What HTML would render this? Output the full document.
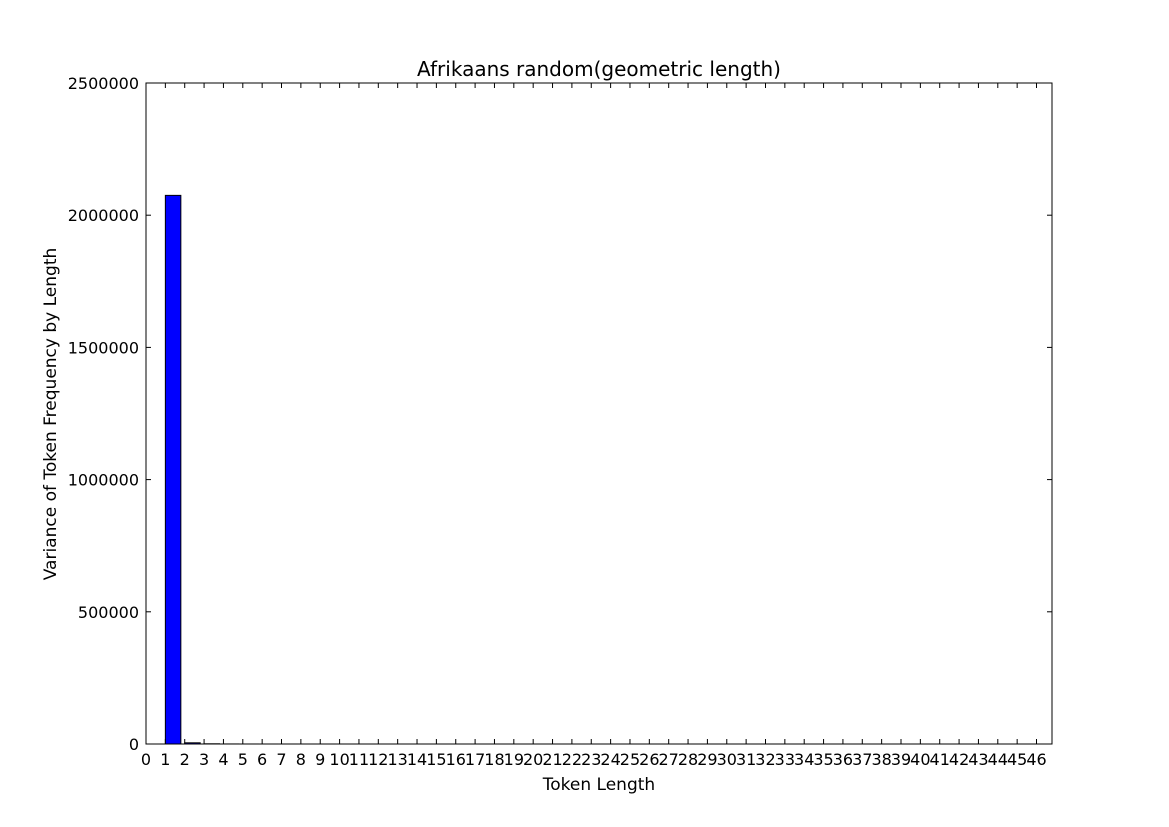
<!DOCTYPE html>
<html><head><meta charset="utf-8"><style>
body{margin:0;background:#fff;}
svg{display:block;font-family:"DejaVu Sans","Liberation Sans",sans-serif;}
</style></head><body>
<svg id="chart" width="1169" height="827"></svg>
<script>
const categories=[];for(let i=1;i<=46;i++)categories.push(i);
const values=[2075000,4500,800,200,60,20,8,3,1,0,0,0,0,0,0,0,0,0,0,0,0,0,0,0,0,0,0,0,0,0,0,0,0,0,0,0,0,0,0,0,0,0,0,0,0,0];
const yTicks=[0,500000,1000000,1500000,2000000,2500000];
const xTicks=[];for(let i=0;i<=46;i++)xTicks.push(i);
const L=146,R=1052,T=83,B=744,xmax=46.8,ymax=2500000;
const sx=v=>L+v/xmax*(R-L), sy=v=>B-v/ymax*(B-T);
const svg=document.getElementById('chart');const NS='http://www.w3.org/2000/svg';
function mk(t,a,txt){const e=document.createElementNS(NS,t);for(const k in a)e.setAttribute(k,a[k]);if(txt!=null)e.textContent=txt;svg.appendChild(e);return e;}
categories.forEach((c,i)=>{const h=values[i];const y=sy(h);
const r=mk('rect',{x:sx(c),y:y,width:sx(c+0.8)-sx(c),height:B-y,fill:'#0000ff',stroke:'#000','stroke-width':1});

});
const f=mk('rect',{x:L,y:T,width:R-L,height:B-T,fill:'none',stroke:'#000','stroke-width':1});


yTicks.forEach(v=>{const y=sy(v);
mk('line',{x1:L,x2:L+5,y1:y,y2:y,stroke:'#000'});mk('line',{x1:R,x2:R-5,y1:y,y2:y,stroke:'#000'});
const t=mk('text',{x:L-7,y:y+6,'text-anchor':'end','font-size':16},v);

});
xTicks.forEach(v=>{const x=sx(v);
mk('line',{x1:x,x2:x,y1:B,y2:B-5,stroke:'#000'});mk('line',{x1:x,x2:x,y1:T,y2:T+5,stroke:'#000'});
const t=mk('text',{x:x,y:B+21,'text-anchor':'middle','font-size':16},v);

});
const ti=mk('text',{x:599,y:76,'text-anchor':'middle','font-size':20},'Afrikaans random(geometric length)');


const xl=mk('text',{x:599,y:790,'text-anchor':'middle','font-size':17},'Token Length');


const yl=mk('text',{x:56,y:414,'text-anchor':'middle','font-size':17,transform:'rotate(-90 56 414)'},'Variance of Token Frequency by Length');


</script></body></html>
